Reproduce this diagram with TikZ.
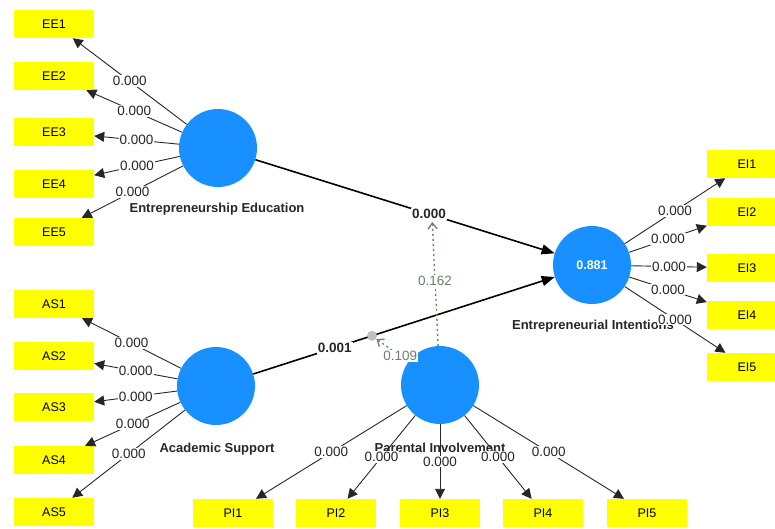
\documentclass[tikz,border=0pt]{standalone}
\usepackage{fontspec}
\setmainfont{Liberation Sans}
\usetikzlibrary{arrows.meta}

\definecolor{lvblue}{RGB}{24,144,255}
\definecolor{indyellow}{RGB}{255,255,0}
\definecolor{modgreen}{RGB}{108,128,108}

\begin{document}
\begin{tikzpicture}[x=1pt, y=-1pt,
	latent/.style={circle, fill=lvblue, minimum size=78pt, inner sep=0pt},
	lvname/.style={font=\fontsize{13}{13}\selectfont\bfseries, text=black!85},
	indicator/.style={rectangle, fill=indyellow, minimum width=80pt, minimum height=28pt, inner sep=0pt, font=\fontsize{12.5}{12.5}\selectfont},
	loading/.style={-{Triangle[length=10pt,width=10pt]}, line width=0.9pt, black!85},
	inner/.style={-{Triangle[length=13pt,width=10pt]}, line width=1.6pt},
	weight/.style={fill=white, inner sep=1pt, font=\fontsize{13.5}{13.5}\selectfont, text=black!85},
	modline/.style={-{Straight Barb[length=6pt,width=9pt]}, modgreen, line width=1.3pt, dash pattern=on 2pt off 3pt},
	modweight/.style={fill=white, inner sep=1pt, font=\fontsize{13.5}{13.5}\selectfont, text=modgreen}]

\clip (0,0) rectangle (775,529);

% Variables latentes
\node[latent] (EE) at (218,148) {};
\node[latent] (AS) at (216,386) {};
\node[latent] (PI) at (440,385) {};
\node[latent, text=white, font=\fontsize{12.5}{12.5}\selectfont\bfseries] (EI) at (592,265) {0.881};

\node[lvname] (EEname) at (217,209) {Entrepreneurship Education};
\node[lvname] (ASname) at (217,449) {Academic Support};
\node[lvname] (EIname) at (593,326) {Entrepreneurial Intentions};
\node[lvname] (PIname) at (440,448) {Parental Involvement};

% Indicadores
\foreach \y [count=\i] in {24, 76, 132, 184, 232}
	\node[indicator] (EE\i) at (54,\y) {EE\i};

\foreach \y [count=\i] in {304, 356, 407, 460, 512}
	\node[indicator] (AS\i) at (54,\y) {AS\i};

\foreach \y [count=\i] in {164, 212, 268, 315, 367}
	\node[indicator] (EI\i) at (747,\y) {EI\i};

\foreach \x [count=\i] in {233, 336, 440, 543, 647}
	\node[indicator] (PI\i) at (\x,513) {PI\i};

% Cargas externas
\foreach \lv in {EE, AS, EI, PI}
	\foreach \i in {1, ..., 5}
		\draw[loading] (\lv) -- (\lv\i) node[weight, midway] {0.000};

% Modelo estructural
\draw[inner] (EE) -- (EI) coordinate[pos=0.59] (EEmid);
\draw[inner] (AS) -- (EI) coordinate[pos=0.394] (ASmid);

\node[circle, fill=black!25, minimum size=10pt, inner sep=0pt] (ASdot) at (ASmid) {};

% Efectos moderadores
\draw[modline, shorten >=7pt] (PI) -- (EEmid) node[modweight, midway] {0.162};
\draw[modline] (PI) -- (ASdot) node[modweight, pos=0.25] {0.109};

\path (EE) -- (EI) node[weight, pos=0.58, font=\fontsize{13.5}{13.5}\selectfont\bfseries] {0.000};
\path (AS) -- (EI) node[weight, pos=0.27, font=\fontsize{13.5}{13.5}\selectfont\bfseries] {0.001};
\end{tikzpicture}
\end{document}
